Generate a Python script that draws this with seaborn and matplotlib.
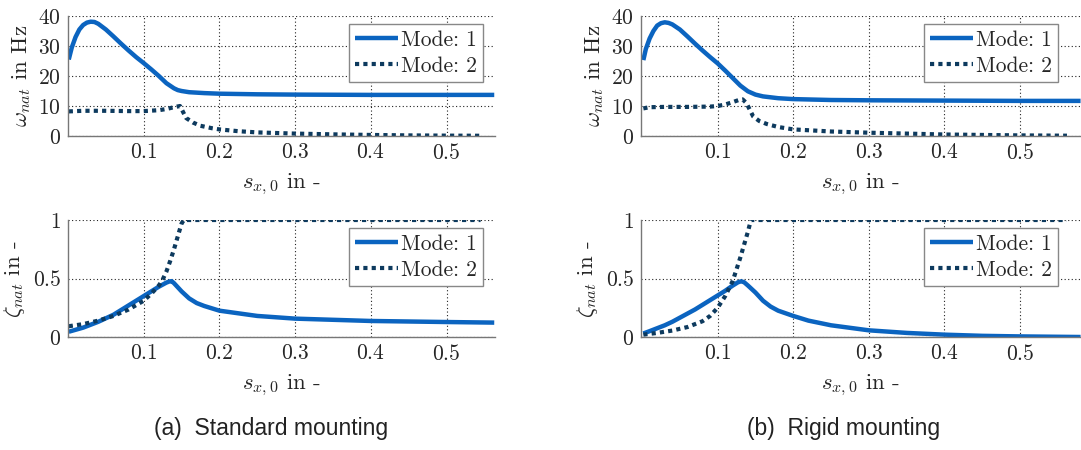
import matplotlib
matplotlib.use("Agg")
import matplotlib.pyplot as plt
import seaborn as sns
import pandas as pd
from matplotlib.ticker import FuncFormatter

sns.set_theme(style="white")
plt.rcParams['mathtext.fontset'] = 'cm'
plt.rcParams['font.family'] = ['cmr10', 'DejaVu Serif']
plt.rcParams['axes.formatter.use_mathtext'] = True

# ---------------- data: (a) standard mounting ----------------
std_w1_x = [0.001, 0.005, 0.010, 0.015, 0.020, 0.025, 0.030, 0.035, 0.040, 0.050, 0.060, 0.070,
            0.080, 0.090, 0.100, 0.110, 0.120, 0.130, 0.140, 0.145, 0.150, 0.160, 0.180, 0.200, 0.250,
            0.300, 0.400, 0.500, 0.563]
std_w1_y = [25.5, 29.5, 33.0, 35.5, 37.0, 37.8, 38.1, 38.0, 37.4, 35.5, 33.2, 30.8,
            28.5, 26.3, 24.3, 22.2, 20.0, 17.6, 15.9, 15.3, 15.0, 14.6, 14.3, 14.1, 13.9,
            13.8, 13.7, 13.7, 13.7]
std_w2_x = [0.001, 0.020, 0.050, 0.080, 0.100, 0.120, 0.130, 0.140, 0.148, 0.152, 0.156, 0.165,
            0.175, 0.190, 0.200, 0.225, 0.250, 0.300, 0.350, 0.400, 0.450, 0.500, 0.545]
std_w2_y = [8.2, 8.4, 8.4, 8.3, 8.3, 8.6, 9.0, 9.6, 10.0, 8.0, 6.0, 4.5,
            3.4, 2.6, 2.2, 1.6, 1.2, 0.8, 0.55, 0.35, 0.2, 0.12, 0.08]
std_z1_x = [0.001, 0.020, 0.040, 0.060, 0.080, 0.100, 0.120, 0.130, 0.134, 0.137, 0.140, 0.145,
            0.150, 0.160, 0.170, 0.180, 0.200, 0.250, 0.300, 0.400, 0.500, 0.563]
std_z1_y = [0.045, 0.08, 0.13, 0.19, 0.27, 0.35, 0.43, 0.465, 0.475, 0.477, 0.46, 0.425,
            0.39, 0.33, 0.29, 0.265, 0.225, 0.18, 0.157, 0.137, 0.128, 0.123]
std_z2_x = [0.001, 0.020, 0.040, 0.060, 0.080, 0.100, 0.110, 0.120, 0.125, 0.130, 0.135, 0.140,
            0.145, 0.150, 0.153, 0.545]
std_z2_y = [0.092, 0.11, 0.14, 0.18, 0.235, 0.31, 0.37, 0.44, 0.49, 0.56, 0.65, 0.75,
            0.86, 0.97, 1.0, 1.0]

# ---------------- data: (b) rigid mounting ----------------
rig_w1_x = [0.0017, 0.005, 0.010, 0.015, 0.020, 0.025, 0.030, 0.035, 0.040, 0.050, 0.060, 0.070,
            0.080, 0.090, 0.100, 0.110, 0.120, 0.130, 0.140, 0.150, 0.160, 0.180, 0.200, 0.250,
            0.300, 0.400, 0.500, 0.580]
rig_w1_y = [25.3, 29.0, 32.5, 35.0, 36.8, 37.6, 37.9, 37.7, 37.2, 35.5, 33.2, 30.8,
            28.5, 26.3, 24.2, 21.8, 19.3, 16.8, 14.9, 13.8, 13.2, 12.6, 12.3, 12.0,
            11.9, 11.8, 11.7, 11.7]
rig_w2_x = [0.0017, 0.010, 0.030, 0.060, 0.090, 0.100, 0.110, 0.120, 0.128, 0.133, 0.138, 0.142,
            0.147, 0.155, 0.165, 0.180, 0.200, 0.250, 0.300, 0.350, 0.400, 0.450, 0.500, 0.562]
rig_w2_y = [9.2, 9.6, 9.7, 9.7, 9.8, 10.0, 10.5, 11.3, 12.0, 12.2, 11.0, 9.0,
            6.5, 5.0, 4.0, 3.0, 2.2, 1.5, 1.1, 0.8, 0.5, 0.35, 0.2, 0.1]
rig_z1_x = [0.0017, 0.010, 0.020, 0.030, 0.040, 0.050, 0.060, 0.070, 0.080, 0.090, 0.100, 0.110,
            0.120, 0.127, 0.131, 0.135, 0.140, 0.150, 0.160, 0.170, 0.180, 0.200, 0.220, 0.250, 0.300,
            0.350, 0.400, 0.450, 0.500, 0.580]
rig_z1_y = [0.03, 0.05, 0.075, 0.10, 0.13, 0.165, 0.20, 0.235, 0.275, 0.315, 0.355, 0.395,
            0.44, 0.468, 0.476, 0.468, 0.44, 0.38, 0.31, 0.26, 0.225, 0.18, 0.14, 0.10, 0.057,
            0.035, 0.02, 0.01, 0.005, 0.0]
rig_z2_x = [0.0017, 0.020, 0.040, 0.060, 0.080, 0.090, 0.100, 0.110, 0.120, 0.130, 0.140, 0.144,
            0.562]
rig_z2_y = [0.02, 0.035, 0.055, 0.085, 0.135, 0.18, 0.25, 0.35, 0.48, 0.68, 0.90, 1.0,
            1.0]

modes = ["Mode: 1", "Mode: 2"]
captions = ["(a)  Standard mounting", "(b)  Rigid mounting"]
x_ticks = [0.1, 0.2, 0.3, 0.4, 0.5]
w_ticks = [0, 10, 20, 30, 40]
z_ticks = [0, 0.5, 1]

C1 = "#0b64c0"
C2 = "#0d3a5e"
TXT = "#262626"

W, H = 1081, 450
fig = plt.figure(figsize=(W / 100, H / 100), dpi=100)


def px_axes(l, t, r, b):
    return fig.add_axes([l / W, 1 - b / H, (r - l) / W, (b - t) / H])


def fmt(v, pos):
    return "$%g$" % v


def style(ax, ylim, yticks, xlim, ylabel, leg_right_px, left_px):
    ax.set_xlim(*xlim)
    ax.set_ylim(*ylim)
    ax.set_xticks(x_ticks)
    ax.set_yticks(yticks)
    ax.xaxis.set_major_formatter(FuncFormatter(fmt))
    ax.yaxis.set_major_formatter(FuncFormatter(fmt))
    ax.tick_params(length=0, labelsize=15.5, pad=5, colors=TXT)
    ax.grid(True, color="#222222", linestyle=(0, (1, 2.2)), linewidth=0.8)
    for s in ["top", "right"]:
        ax.spines[s].set_visible(False)
    for s in ["left", "bottom"]:
        ax.spines[s].set_color("#777777")
        ax.spines[s].set_linewidth(1.0)
    ax.set_xlabel(r"$s_{x,0}$ in -", fontsize=16.5, color=TXT, labelpad=6)
    ax.set_ylabel(ylabel, fontsize=16.5, color=TXT, labelpad=4)
    wpx = ax.bbox.width
    hpx = ax.bbox.height
    leg = ax.legend(loc="upper right",
                    bbox_to_anchor=((leg_right_px - left_px) / wpx, 1 - 8 / hpx),
                    borderaxespad=0, fancybox=False, framealpha=1, edgecolor="#888888",
                    prop={"family": "cmr10", "size": 15.5}, handlelength=2.0, handletextpad=0.1,
                    borderpad=0.3, labelspacing=0.3, borderaxespad_=None) if False else \
        ax.legend(loc="upper right",
                  bbox_to_anchor=((leg_right_px - left_px) / wpx, 1 - 8 / hpx),
                  borderaxespad=0, fancybox=False, framealpha=1, edgecolor="#888888",
                  prop={"family": "cmr10", "size": 15.5}, handlelength=2.0, handletextpad=0.1,
                  borderpad=0.3, labelspacing=0.3)
    leg.get_frame().set_linewidth(1.0)
    for t in leg.get_texts():
        t.set_color(TXT)


def draw(ax, x1, y1, x2, y2):
    d1 = pd.DataFrame({"x": x1, "y": y1})
    d2 = pd.DataFrame({"x": x2, "y": y2})
    sns.lineplot(data=d1, x="x", y="y", ax=ax, color=C1, linewidth=3.2, label=modes[0],
                 solid_capstyle="butt", solid_joinstyle="round")
    sns.lineplot(data=d2, x="x", y="y", ax=ax, color=C2, linewidth=3.0, linestyle=(0, (1, 1)),
                 label=modes[1])


ax_a1 = px_axes(68, 16, 495, 136)
ax_a2 = px_axes(68, 220, 495, 337)
ax_b1 = px_axes(641, 16, 1081, 136)
ax_b2 = px_axes(641, 220, 1081, 337)

draw(ax_a1, std_w1_x, std_w1_y, std_w2_x, std_w2_y)
draw(ax_a2, std_z1_x, std_z1_y, std_z2_x, std_z2_y)
draw(ax_b1, rig_w1_x, rig_w1_y, rig_w2_x, rig_w2_y)
draw(ax_b2, rig_z1_x, rig_z1_y, rig_z2_x, rig_z2_y)

xl_a = (0.0, 0.564)
xl_b = (-0.0014, 0.1 + (1081 - 717.7) / 756)
wl = r"$\omega_{nat}$ in Hz"
zl = r"$\zeta_{nat}$ in -"

style(ax_a1, (0, 40), w_ticks, xl_a, wl, 483, 68)
style(ax_a2, (0, 1), z_ticks, xl_a, zl, 483, 68)
style(ax_b1, (0, 40), w_ticks, xl_b, wl, 1058, 641)
style(ax_b2, (0, 1), z_ticks, xl_b, zl, 1058, 641)

fig.text(271 / W, 1 - 428 / H, captions[0], ha="center", va="center",
         family="Liberation Sans", fontsize=16.5, color="#222222")
fig.text(844 / W, 1 - 428 / H, captions[1], ha="center", va="center",
         family="Liberation Sans", fontsize=16.5, color="#222222")

fig.savefig("out.png", dpi=100)
